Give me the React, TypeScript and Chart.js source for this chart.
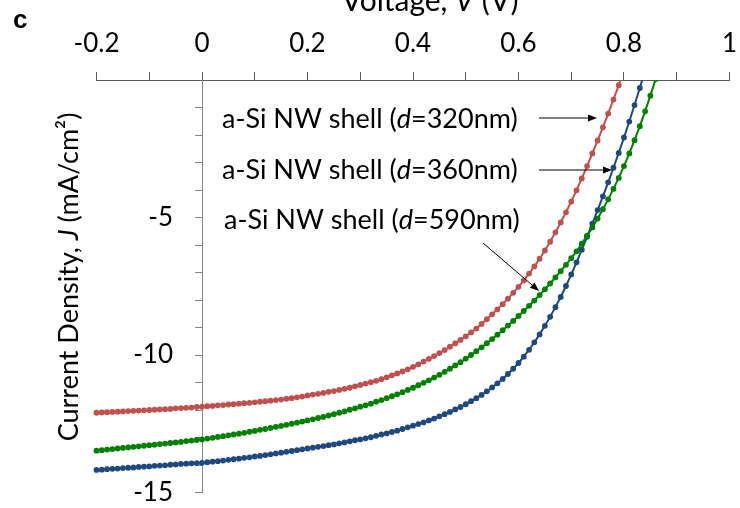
import React, { useEffect, useRef } from "react";
import { Chart, registerables } from "chart.js";

Chart.register(...registerables);

// Voltage grid (V)
const voltage = [
  -0.2, -0.19, -0.18, -0.17, -0.16, -0.15, -0.14, -0.13, -0.12, -0.11,
  -0.1, -0.09, -0.08, -0.07, -0.06, -0.05, -0.04, -0.03, -0.02, -0.01,
  0.0, 0.01, 0.02, 0.03, 0.04, 0.05, 0.06, 0.07, 0.08, 0.09,
  0.1, 0.11, 0.12, 0.13, 0.14, 0.15, 0.16, 0.17, 0.18, 0.19,
  0.2, 0.21, 0.22, 0.23, 0.24, 0.25, 0.26, 0.27, 0.28, 0.29,
  0.3, 0.31, 0.32, 0.33, 0.34, 0.35, 0.36, 0.37, 0.38, 0.39,
  0.4, 0.41, 0.42, 0.43, 0.44, 0.45, 0.46, 0.47, 0.48, 0.49,
  0.5, 0.51, 0.52, 0.53, 0.54, 0.55, 0.56, 0.57, 0.58, 0.59,
  0.6, 0.61, 0.62, 0.63, 0.64, 0.65, 0.66, 0.67, 0.68, 0.69,
  0.7, 0.71, 0.72, 0.73, 0.74, 0.75, 0.76, 0.77, 0.78, 0.79,
  0.8, 0.81, 0.82, 0.83, 0.84, 0.85, 0.86,
];

// Current density J (mA/cm^2), a-Si NW shell d = 320 nm (red)
const jShell320 = [
  -12.1, -12.09, -12.08, -12.07, -12.06, -12.05, -12.04, -12.03, -12.02, -12.01,
  -12.0, -11.99, -11.98, -11.97, -11.96, -11.94, -11.93, -11.92, -11.91, -11.89,
  -11.88, -11.86, -11.85, -11.83, -11.82, -11.8, -11.79, -11.77, -11.75, -11.74,
  -11.72, -11.7, -11.68, -11.66, -11.64, -11.62, -11.59, -11.57, -11.54, -11.51,
  -11.47, -11.44, -11.41, -11.38, -11.34, -11.31, -11.27, -11.23, -11.19, -11.14,
  -11.09, -11.04, -10.99, -10.94, -10.88, -10.81, -10.74, -10.67, -10.6, -10.52,
  -10.43, -10.34, -10.24, -10.14, -10.04, -9.93, -9.82, -9.7, -9.58, -9.45,
  -9.32, -9.18, -9.04, -8.87, -8.7, -8.52, -8.34, -8.15, -7.95, -7.74,
  -7.52, -7.29, -7.04, -6.78, -6.5, -6.2, -5.88, -5.54, -5.18, -4.81,
  -4.42, -4.01, -3.58, -3.13, -2.67, -2.2, -1.72, -1.22, -0.71, -0.19,
  0.33,
];

// d = 360 nm (blue)
const jShell360 = [
  -14.18, -14.17, -14.15, -14.14, -14.13, -14.11, -14.1, -14.09, -14.07, -14.06,
  -14.05, -14.03, -14.02, -14.01, -13.99, -13.98, -13.96, -13.95, -13.94, -13.93,
  -13.92, -13.9, -13.88, -13.86, -13.84, -13.81, -13.79, -13.77, -13.74, -13.72,
  -13.69, -13.67, -13.64, -13.61, -13.58, -13.55, -13.52, -13.49, -13.46, -13.43,
  -13.4, -13.37, -13.34, -13.31, -13.28, -13.25, -13.21, -13.18, -13.14, -13.1,
  -13.07, -13.03, -12.99, -12.94, -12.89, -12.85, -12.8, -12.75, -12.69, -12.63,
  -12.57, -12.51, -12.45, -12.38, -12.31, -12.23, -12.15, -12.07, -11.98, -11.89,
  -11.79, -11.68, -11.57, -11.45, -11.32, -11.18, -11.03, -10.87, -10.69, -10.5,
  -10.29, -10.06, -9.81, -9.54, -9.25, -8.94, -8.61, -8.26, -7.89, -7.49,
  -7.07, -6.63, -6.17, -5.7, -5.22, -4.73, -4.23, -3.72, -3.19, -2.65,
  -2.09, -1.51, -0.91, -0.29, 0.35,
];

// d = 590 nm (green)
const jShell590 = [
  -13.48, -13.46, -13.44, -13.42, -13.4, -13.38, -13.36, -13.34, -13.32, -13.3,
  -13.28, -13.26, -13.24, -13.22, -13.2, -13.18, -13.16, -13.13, -13.11, -13.09,
  -13.07, -13.04, -13.01, -12.98, -12.95, -12.92, -12.89, -12.86, -12.83, -12.79,
  -12.76, -12.72, -12.69, -12.65, -12.61, -12.58, -12.54, -12.5, -12.46, -12.42,
  -12.38, -12.34, -12.29, -12.25, -12.2, -12.15, -12.1, -12.05, -11.99, -11.94,
  -11.88, -11.83, -11.77, -11.7, -11.64, -11.57, -11.5, -11.43, -11.35, -11.27,
  -11.19, -11.1, -11.01, -10.92, -10.82, -10.72, -10.61, -10.5, -10.38, -10.26,
  -10.13, -10.0, -9.86, -9.72, -9.57, -9.42, -9.26, -9.1, -8.93, -8.76,
  -8.58, -8.4, -8.21, -8.02, -7.82, -7.61, -7.4, -7.18, -6.95, -6.72,
  -6.48, -6.23, -5.95, -5.66, -5.36, -5.04, -4.7, -4.34, -3.96, -3.56,
  -3.13, -2.67, -2.19, -1.68, -1.14, -0.57, 0.03,
];

const seriesThickness = ["320nm", "360nm", "590nm"];
const seriesColors = ["#C0504D", "#1F497D", "#008000"];

const xMin = -0.2;
const xMax = 1;
const yMin = -15;
const yMax = 0;

const FONT = "Lato, 'Open Sans', sans-serif";

function toPoints(values: number[]) {
  return values.map((j, i) => ({ x: voltage[i], y: j }));
}

type Part = [string, boolean];

function richWidth(ctx: CanvasRenderingContext2D, parts: Part[], size: number) {
  let w = 0;
  for (const [t, it] of parts) {
    ctx.font = `${it ? "italic " : ""}${size}px ${FONT}`;
    w += ctx.measureText(t).width;
  }
  return w;
}

function drawRich(
  ctx: CanvasRenderingContext2D,
  parts: Part[],
  x: number,
  y: number,
  size: number,
  align: "left" | "center"
) {
  ctx.textAlign = "left";
  ctx.textBaseline = "alphabetic";
  let cx = align === "center" ? x - richWidth(ctx, parts, size) / 2 : x;
  for (const [t, it] of parts) {
    ctx.font = `${it ? "italic " : ""}${size}px ${FONT}`;
    ctx.fillText(t, cx, y);
    cx += ctx.measureText(t).width;
  }
}

function arrow(ctx: CanvasRenderingContext2D, x1: number, y1: number, x2: number, y2: number) {
  const ang = Math.atan2(y2 - y1, x2 - x1);
  const hl = 9;
  const hw = 3.5;
  const bx = x2 - hl * Math.cos(ang);
  const by = y2 - hl * Math.sin(ang);
  ctx.strokeStyle = "#000";
  ctx.lineWidth = 1;
  ctx.beginPath();
  ctx.moveTo(x1, y1);
  ctx.lineTo(bx, by);
  ctx.stroke();
  ctx.fillStyle = "#000";
  ctx.beginPath();
  ctx.moveTo(x2, y2);
  ctx.lineTo(bx - hw * Math.sin(ang), by + hw * Math.cos(ang));
  ctx.lineTo(bx + hw * Math.sin(ang), by - hw * Math.cos(ang));
  ctx.closePath();
  ctx.fill();
}

const overlayPlugin = {
  id: "overlay",
  afterLayout(chart: any) {
    // move the vertical axis so that it crosses the horizontal axis at V = 0
    const x = chart.scales.x;
    const y = chart.scales.y;
    const x0 = x.getPixelForValue(0);
    y.left = 0;
    y.right = x0;
    y.width = x0;
  },
  afterDraw(chart: any) {
    const ctx: CanvasRenderingContext2D = chart.ctx;
    ctx.save();
    ctx.fillStyle = "#000";

    // panel letter
    ctx.font = "bold 26px 'Liberation Sans', Arial, sans-serif";
    ctx.textAlign = "left";
    ctx.textBaseline = "alphabetic";
    ctx.fillText("c", 13, 28);

    // x axis title (cut at the top)
    drawRich(ctx, [["Voltage, ", false], ["V", true], [" (V)", false]], 430, 11, 30, "center");

    // y axis title
    ctx.save();
    ctx.translate(78, 277);
    ctx.rotate(-Math.PI / 2);
    drawRich(ctx, [["Current Density, ", false], ["J", true], [" (mA/cm\u00B2)", false]], 0, 0, 27, "center");
    ctx.restore();

    // annotations
    const lines: [number, number][] = [
      [222, 128],
      [222, 179],
      [224, 229],
    ];
    seriesThickness.forEach((t, i) => {
      drawRich(ctx, [["a-Si NW shell (", false], ["d", true], ["=" + t + ")", false]], lines[i][0], lines[i][1], 27, "left");
    });

    arrow(ctx, 539, 118, 597, 118);
    arrow(ctx, 539, 170, 612, 170);
    arrow(ctx, 483, 243, 539, 291);
    ctx.restore();
  },
};

export default function App() {
  const ref = useRef<HTMLCanvasElement>(null);
  useEffect(() => {
    const canvas = ref.current;
    if (!canvas) return;
    Chart.defaults.font.family = FONT;
    const series = [jShell590, jShell360, jShell320];
    const names = ["590nm", "360nm", "320nm"];
    const cols = [seriesColors[2], seriesColors[1], seriesColors[0]];
    const chart = new Chart(canvas, {
      type: "line",
      data: {
        datasets: series.map((s, i) => ({
          label: "a-Si NW shell (d=" + names[i] + ")",
          data: toPoints(s),
          borderColor: cols[i],
          backgroundColor: cols[i],
          pointBackgroundColor: cols[i],
          pointBorderColor: cols[i],
          pointBorderWidth: 0,
          pointRadius: 2.9,
          borderWidth: 2,
          tension: 0,
          fill: false,
          clip: { left: 6, right: 6, top: 0, bottom: 6 },
        })),
      },
      options: {
        responsive: false,
        animation: false,
        devicePixelRatio: 1,
        layout: { padding: { left: 56.5, right: 10.5, top: 0, bottom: 15.5 } },
        plugins: {
          legend: { display: false },
          tooltip: { enabled: false },
        },
        scales: {
          x: {
            type: "linear",
            position: "top",
            min: xMin,
            max: xMax,
            afterFit: (s: any) => {
              s.height = 80;
              s.paddingLeft = 0;
              s.paddingRight = 0;
            },
            grid: { drawOnChartArea: false, color: "#595959", tickLength: 8, tickWidth: 1 },
            border: { color: "#595959", width: 1 },
            ticks: {
              stepSize: 0.1,
              autoSkip: false,
              maxRotation: 0,
              padding: 13,
              color: "#000",
              font: { size: 26, family: FONT },
              callback: (v: any) => {
                const k = Math.round(Number(v) * 10);
                return k % 2 === 0 ? String(k / 10) : "";
              },
            },
          },
          y: {
            type: "linear",
            position: "left",
            min: yMin,
            max: yMax,
            afterFit: (s: any) => {
              s.width = 40;
              s.paddingTop = 0;
              s.paddingBottom = 0;
            },
            grid: { drawOnChartArea: false, color: "#868686", tickLength: 7, tickWidth: 1 },
            border: { color: "#868686", width: 1 },
            ticks: {
              stepSize: 1,
              autoSkip: false,
              padding: 22,
              color: "#000",
              font: { size: 26, family: FONT },
              callback: (v: any) => {
                const n = Math.round(Number(v));
                return n !== 0 && n % 5 === 0 ? String(n) : "";
              },
            },
          },
        },
      },
      plugins: [overlayPlugin],
    } as any);
    let alive = true;
    const fonts: any = (document as any).fonts;
    if (fonts && fonts.load) {
      Promise.all([
        fonts.load(`26px Lato`),
        fonts.load(`italic 26px Lato`),
        fonts.load(`bold 26px "Liberation Sans"`),
      ])
        .then(() => {
          if (alive) chart.update();
        })
        .catch(() => {});
    }
    return () => {
      alive = false;
      chart.destroy();
    };
  }, []);
  return (
    <div style={{ position: "absolute", left: 0, top: 0, width: 740, height: 508, background: "#fff" }}>
      <canvas ref={ref} width={740} height={508} style={{ display: "block", width: 740, height: 508 }} />
    </div>
  );
}
